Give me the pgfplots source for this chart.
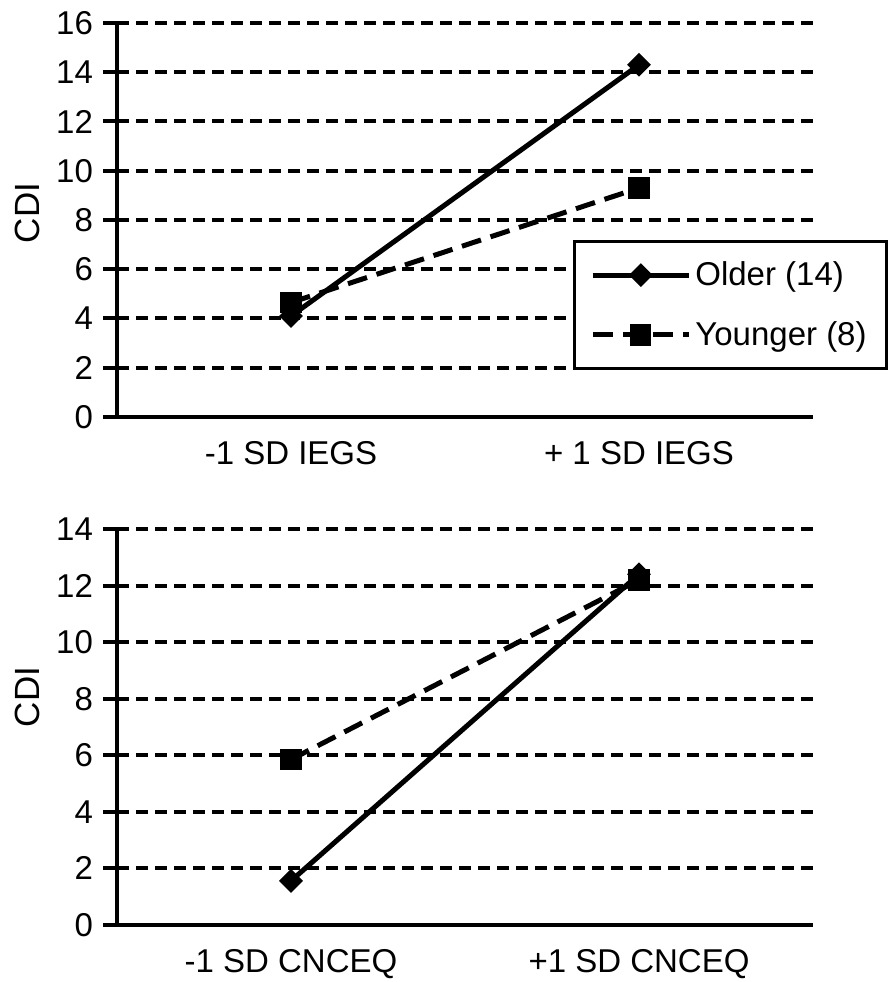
\documentclass[border=0pt]{standalone}
\usepackage{fontspec}
\setmainfont{Liberation Sans}
\usepackage{pgfplots}
\pgfplotsset{compat=1.18}

\newcommand{\lblfont}{\fontsize{16.5}{19.8}\selectfont}

\pgfplotsset{
  cdiaxis/.style={
    scale only axis,
    width=348pt,
    xmin=0, xmax=2, ymin=0,
    axis x line=bottom, axis y line=left,
    axis line style={-, line width=2pt},
    tick align=outside,
    xtick=\empty, minor xtick={0,1,2},
    minor x tick style={line width=2pt, black},
    minor tick length=4pt,
    major tick length=10pt,
    ytick style={line width=2pt, black, xshift=3pt},
    extra x tick style={major tick length=0pt},
    ymajorgrids,
    grid style={black, line width=2pt, dash pattern=on 6pt off 3.5pt},
    /pgf/number format/assume math mode=true,
    ticklabel style={font=\lblfont},
    yticklabel style={xshift=1.5pt},
    xticklabel style={yshift=-8.5pt},
    clip=false,
  },
  older/.style={black, line width=2.5pt, mark=square*, mark size=3.9pt,
    mark options={rotate=45, line width=0.6pt}},
  younger/.style={black, line width=2.5pt, dash pattern=on 10pt off 5pt,
    mark=square*, mark size=5pt, mark options={solid, line width=0.6pt}},
}

\begin{document}
\begin{tikzpicture}[x=1pt,y=1pt]
% top panel
\begin{axis}[cdiaxis,
  at={(58.5pt,282.5pt)}, anchor=south west,
  height=197pt, ymax=16, ytick={0,2,...,16},
  extra x ticks={0.5,1.5},
  extra x tick labels={-1 SD IEGS,+ 1 SD IEGS},
  ylabel={CDI},
  every axis y label/.style={at={(axis description cs:-0.129,0.518)}, rotate=90, anchor=center,
    font=\fontsize{17.5}{21}\selectfont},
  legend style={at={(0.655,0.449)}, anchor=north west, draw=black, line width=1.5pt,
    inner xsep=8pt, inner ysep=8pt, row sep=12.5pt, font=\lblfont,
    cells={anchor=west}},
  legend image code/.code={\draw[mark repeat=2,mark phase=2,#1] plot coordinates {(0pt,0pt) (24pt,0pt) (48pt,0pt)};},
]
\addplot[older] coordinates {(0.5,4.1) (1.5,14.3)};
\addlegendentry{Older (14)}
\addplot[younger] coordinates {(0.5,4.65) (1.5,9.3)};
\addlegendentry{Younger (8)}
\end{axis}

% bottom panel
\begin{axis}[cdiaxis,
  at={(58.5pt,28.5pt)}, anchor=south west,
  height=198pt, ymax=14, ytick={0,2,...,14},
  extra x ticks={0.5,1.5},
  extra x tick labels={-1 SD CNCEQ,+1 SD CNCEQ},
  ylabel={CDI},
  every axis y label/.style={at={(axis description cs:-0.129,0.576)}, rotate=90, anchor=center,
    font=\fontsize{17.5}{21}\selectfont},
]
\addplot[older] coordinates {(0.5,1.56) (1.5,12.4)};
\addplot[younger] coordinates {(0.5,5.85) (1.5,12.2)};
\end{axis}

\pgfresetboundingbox
\path[use as bounding box] (0,0) rectangle (446.5pt,491pt);
\end{tikzpicture}
\end{document}
